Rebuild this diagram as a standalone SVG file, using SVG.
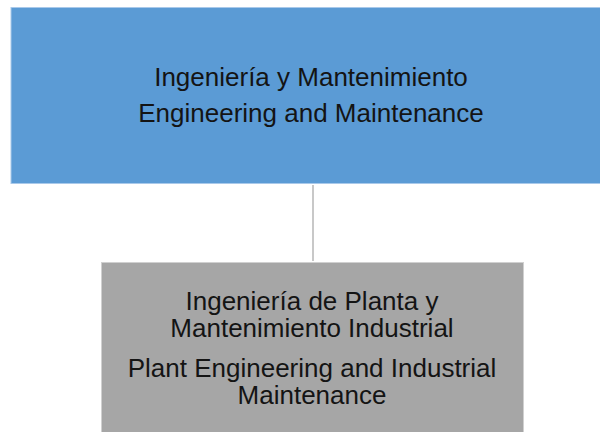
<svg xmlns="http://www.w3.org/2000/svg" width="600" height="432" viewBox="0 0 600 432">
<style>
.t{font-family:"Liberation Sans",Arial,sans-serif;font-size:26px;fill:#141414;text-anchor:middle}
.edge{stroke:#c8c8c8;stroke-width:2;fill:none}
</style>
<rect width="600" height="432" fill="#ffffff"/>
<g id="connectors">
<line class="edge" x1="313" y1="185" x2="313" y2="261"/>
</g>
<g id="node-top">
<rect x="11" y="7.5" width="600" height="176" fill="#5b9bd5" stroke="#a9c9ea" stroke-width="1"/>
<text class="t" x="311" y="86">Ingeniería y Mantenimiento</text>
<text class="t" x="311" y="122">Engineering and Maintenance</text>
</g>
<g id="node-bottom">
<rect x="101.5" y="262.5" width="422" height="180" fill="#a6a6a6" stroke="#d0d0d0" stroke-width="1"/>
<text class="t" x="312" y="310">Ingeniería de Planta y</text>
<text class="t" x="312" y="337">Mantenimiento Industrial</text>
<text class="t" x="312" y="377">Plant Engineering and Industrial</text>
<text class="t" x="312" y="404">Maintenance</text>
</g>
</svg>
